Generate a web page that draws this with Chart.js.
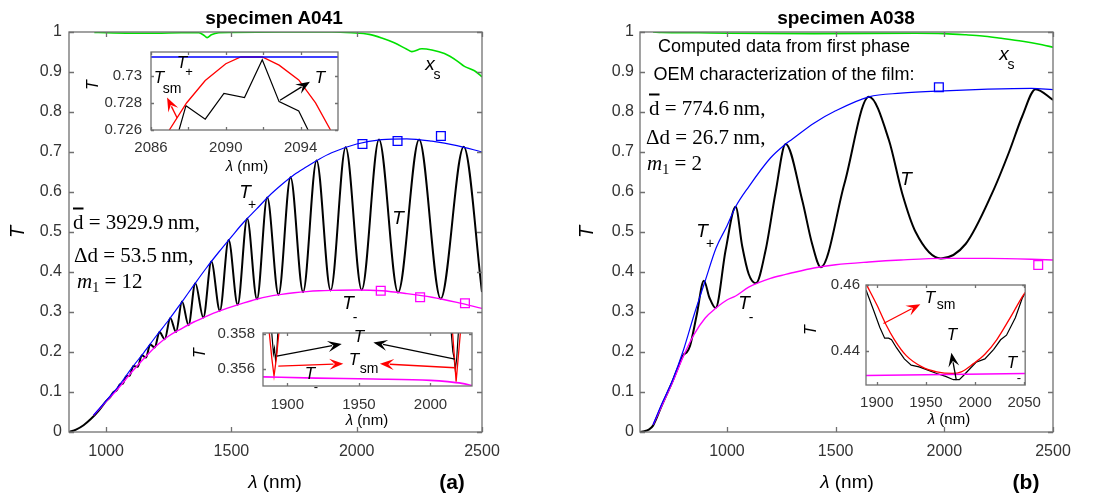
<!DOCTYPE html>
<html>
<head>
<meta charset="utf-8">
<script src="https://cdn.jsdelivr.net/npm/chart.js@4.4.0/dist/chart.umd.min.js"></script>
<style>
body { margin: 0; background: #fff; }
#wrap { position: relative; width: 1099px; height: 494px; overflow: hidden; font-family: 'Liberation Sans', Arial, sans-serif; color: #000; }
canvas { position: absolute; }
.t { position: absolute; transform: translate(-50%, -50%); white-space: nowrap; line-height: 1; }
.it { font-style: italic; }
.rot { transform: translate(-50%, -50%) rotate(-90deg); }
.b { font-weight: bold; }
.math { position: absolute; transform: translate(0, -50%); white-space: nowrap; line-height: 1; font-family: 'Liberation Serif', 'Times New Roman', serif; font-size: 21px; }
.math sub { font-size: 14px; vertical-align: -4px; }
.ov { text-decoration: overline; }
</style>
</head>
<body>
<div id="wrap">
  <canvas id="mainA" width="549" height="494" style="left:0;top:0"></canvas>
  <canvas id="mainB" width="550" height="494" style="left:549px;top:0"></canvas>
  <canvas id="insA1" width="255" height="134" style="left:95px;top:34px"></canvas>
  <canvas id="insA2" width="280" height="104" style="left:205px;top:316px"></canvas>
  <canvas id="insB" width="240" height="145" style="left:810px;top:270px"></canvas>

  <!-- panel (a) -->
  <div class="t b" style="left:274px;top:17px;font-size:19px">specimen A041</div>
  <div class="t it rot" style="left:17px;top:232px;font-size:20px">T</div>
  <div class="t" style="left:275px;top:481px;font-size:19px"><i>λ</i> (nm)</div>
  <div class="t b" style="left:452px;top:481px;font-size:21px">(a)</div>
  <div class="t it" style="left:245px;top:191px;font-size:19px">T</div>
  <div class="t" style="left:252px;top:204px;font-size:14px">+</div>
  <div class="t it" style="left:398px;top:217px;font-size:19px">T</div>
  <div class="t it" style="left:348px;top:302px;font-size:19px">T</div>
  <div class="t" style="left:355px;top:317px;font-size:14px">-</div>
  <div class="t it" style="left:430px;top:63px;font-size:19px">x</div>
  <div class="t" style="left:437px;top:74px;font-size:14px">s</div>
  <div class="math" style="left:73px;top:222px"><span class="ov">d</span> = 3929.9&thinsp;nm,</div>
  <div class="math" style="left:74px;top:255px">Δd = 53.5&thinsp;nm,</div>
  <div class="math" style="left:77px;top:283px"><i>m</i><sub>1</sub> = 12</div>

  <!-- inset (a) top -->
  <div class="t it rot" style="left:93px;top:85px;font-size:16px">T</div>
  <div class="t" style="left:247px;top:165px;font-size:15px"><i>λ</i> (nm)</div>
  <div class="t it" style="left:182px;top:62px;font-size:17px">T</div>
  <div class="t" style="left:189px;top:71px;font-size:13px">+</div>
  <div class="t it" style="left:159px;top:77px;font-size:17px">T</div>
  <div class="t" style="left:172px;top:88px;font-size:14px">sm</div>
  <div class="t it" style="left:320px;top:77px;font-size:17px">T</div>

  <!-- inset (a) bottom -->
  <div class="t it rot" style="left:200px;top:353px;font-size:16px">T</div>
  <div class="t" style="left:367px;top:419px;font-size:15px"><i>λ</i> (nm)</div>
  <div class="t it" style="left:359px;top:336px;font-size:17px">T</div>
  <div class="t it" style="left:354px;top:359px;font-size:17px">T</div>
  <div class="t" style="left:369px;top:368px;font-size:14px">sm</div>
  <div class="t it" style="left:310px;top:373px;font-size:17px">T</div>
  <div class="t" style="left:316px;top:386px;font-size:13px">-</div>

  <!-- panel (b) -->
  <div class="t b" style="left:846px;top:17px;font-size:19px">specimen A038</div>
  <div class="t it rot" style="left:586px;top:232px;font-size:20px">T</div>
  <div class="t" style="left:847px;top:481px;font-size:19px"><i>λ</i> (nm)</div>
  <div class="t b" style="left:1026px;top:481px;font-size:21px">(b)</div>
  <div class="t" style="left:784px;top:46px;font-size:18px">Computed data from first phase</div>
  <div class="t" style="left:784px;top:74px;font-size:18px">OEM characterization of the film:</div>
  <div class="math" style="left:649px;top:108px"><span class="ov">d</span> = 774.6&thinsp;nm,</div>
  <div class="math" style="left:646px;top:137px">Δd = 26.7&thinsp;nm,</div>
  <div class="math" style="left:647px;top:165px"><i>m</i><sub>1</sub> = 2</div>
  <div class="t it" style="left:1004px;top:53px;font-size:19px">x</div>
  <div class="t" style="left:1011px;top:64px;font-size:14px">s</div>
  <div class="t it" style="left:906px;top:178px;font-size:19px">T</div>
  <div class="t it" style="left:702px;top:230px;font-size:19px">T</div>
  <div class="t" style="left:710px;top:243px;font-size:14px">+</div>
  <div class="t it" style="left:744px;top:302px;font-size:19px">T</div>
  <div class="t" style="left:751px;top:317px;font-size:14px">-</div>

  <!-- inset (b) -->
  <div class="t it rot" style="left:811px;top:330px;font-size:16px">T</div>
  <div class="t" style="left:949px;top:418px;font-size:15px"><i>λ</i> (nm)</div>
  <div class="t it" style="left:930px;top:297px;font-size:17px">T</div>
  <div class="t" style="left:946px;top:304px;font-size:14px">sm</div>
  <div class="t it" style="left:952px;top:334px;font-size:17px">T</div>
  <div class="t it" style="left:1012px;top:362px;font-size:17px">T</div>
  <div class="t" style="left:1019px;top:377px;font-size:13px">-</div>
</div>

<script>
// ---------- panel (a): specimen A041 ----------
var aEnvLam = [950, 1000, 1050, 1100, 1150, 1200, 1250, 1300, 1350, 1400, 1450, 1500, 1550, 1600, 1650, 1700, 1750, 1800, 1850, 1900, 2000, 2100, 2200, 2300, 2400, 2500];
var aTplus = [0.042, 0.078, 0.115, 0.158, 0.198, 0.24, 0.28, 0.323, 0.367, 0.41, 0.45, 0.488, 0.525, 0.557, 0.59, 0.618, 0.643, 0.663, 0.682, 0.698, 0.72, 0.731, 0.733, 0.727, 0.716, 0.70];
var aTminus = [0.042, 0.076, 0.11, 0.148, 0.183, 0.215, 0.24, 0.258, 0.275, 0.289, 0.302, 0.313, 0.323, 0.332, 0.339, 0.344, 0.348, 0.351, 0.353, 0.354, 0.355, 0.353, 0.346, 0.337, 0.324, 0.309];
var aTLam = [852, 880, 910, 940, 970, 1000, 1017, 1030, 1042, 1055, 1067, 1080, 1094, 1109, 1126, 1143, 1159, 1176, 1194, 1213, 1234, 1256, 1279, 1303, 1329, 1356, 1388, 1420, 1454, 1489, 1525, 1563, 1602, 1643, 1688, 1736, 1786, 1840, 1896, 1956, 2020, 2089, 2165, 2249, 2335, 2427, 2500];
var aT = [0, 0.006, 0.017, 0.033, 0.053, 0.077, 0.088, 0.1, 0.104, 0.119, 0.121, 0.139, 0.141, 0.165, 0.163, 0.192, 0.186, 0.219, 0.211, 0.25, 0.232, 0.285, 0.25, 0.326, 0.267, 0.372, 0.286, 0.426, 0.303, 0.48, 0.318, 0.534, 0.332, 0.586, 0.343, 0.637, 0.35, 0.679, 0.354, 0.712, 0.355, 0.731, 0.349, 0.731, 0.333, 0.713, 0.35];
var aXsLam = [953, 1000, 1100, 1200, 1300, 1370, 1390, 1403, 1420, 1450, 1500, 1700, 1900, 1980, 2050, 2100, 2150, 2200, 2220, 2260, 2300, 2350, 2400, 2430, 2470, 2500];
var aXs = [0.999, 0.998, 0.997, 0.997, 0.998, 0.998, 0.992, 0.986, 0.993, 0.998, 0.999, 1.0, 1.0, 0.998, 0.994, 0.985, 0.973, 0.957, 0.951, 0.958, 0.955, 0.946, 0.928, 0.914, 0.903, 0.888];
var aSqPlusLam = [2023, 2163, 2336];
var aSqPlus = [0.72, 0.7275, 0.74];
var aSqMinusLam = [2096, 2253, 2432];
var aSqMinus = [0.353, 0.337, 0.322];

// inset (a) top
var a1BlueLam = [2086, 2096];
var a1Blue = [0.7314, 0.7314];
var a1RedLam = [2086.98, 2087.9, 2088.9, 2090.0, 2090.8, 2091.95, 2092.85, 2093.9, 2094.8, 2095.6];
var a1Red = [0.726, 0.728, 0.72966, 0.7309, 0.7314, 0.7314, 0.7308, 0.7297, 0.728, 0.726];
var a1TLam = [2087.5, 2087.87, 2088.9, 2089.9, 2091.0, 2091.95, 2092.85, 2093.9, 2094.4];
var a1T = [0.726, 0.7278, 0.7268, 0.7287, 0.7284, 0.7312, 0.7281, 0.7274, 0.726];

// inset (a) bottom
var a2MagLam = [1883, 1920, 1960, 2000, 2012, 2022, 2029];
var a2Mag = [0.35557, 0.3555, 0.35545, 0.35537, 0.3553, 0.3552, 0.35508];
var a2RedLam = [1885.8, 1887.5, 1889.2, 1890.7, 1892.3, 1894.0, 1895.8, 1900, 2010, 2013.5, 2015.5, 2016.8, 2017.9, 2019.3, 2020.8, 2022.5];
var a2Red = [0.36, 0.358, 0.3566, 0.35562, 0.3566, 0.358, 0.36, 0.365, 0.365, 0.36, 0.358, 0.3566, 0.3553, 0.3566, 0.358, 0.36];
var a2TLam = [1888.0, 1889.2, 1890.3, 1891.0, 1891.8, 1892.6, 1893.3, 1894.2, 1900, 2010, 2013.2, 2014.6, 2015.6, 2016.4, 2017.3, 2018.3, 2019.4, 2020.6];
var a2T = [0.3595, 0.358, 0.3569, 0.3572, 0.3565, 0.357, 0.358, 0.3595, 0.366, 0.366, 0.3595, 0.358, 0.357, 0.3567, 0.356, 0.3566, 0.358, 0.3595];

// ---------- panel (b): specimen A038 ----------
var bEnvLam = [660, 700, 750, 800, 850, 900, 950, 1000, 1040, 1100, 1200, 1270, 1300, 1400, 1500, 1653, 1800, 2000, 2200, 2400, 2500];
var bTplus = [0.018, 0.07, 0.13, 0.205, 0.295, 0.378, 0.46, 0.515, 0.563, 0.613, 0.685, 0.72, 0.732, 0.772, 0.803, 0.838, 0.847, 0.853, 0.857, 0.859, 0.856];
var bTminus = [0.018, 0.065, 0.125, 0.19, 0.245, 0.285, 0.31, 0.33, 0.34, 0.362, 0.384, 0.394, 0.398, 0.41, 0.418, 0.425, 0.43, 0.434, 0.434, 0.432, 0.43];
var bTLam = [600, 620, 640, 660, 700, 750, 780, 800, 815, 830, 860, 894, 920, 948, 994, 1040, 1070, 1100, 1133, 1178, 1224, 1270, 1346, 1392, 1432, 1540, 1653, 1745, 1806, 1868, 1984, 2098, 2220, 2298, 2359, 2420, 2500];
var bT = [0, 0.002, 0.006, 0.016, 0.066, 0.127, 0.168, 0.193, 0.199, 0.215, 0.29, 0.378, 0.335, 0.31, 0.455, 0.563, 0.465, 0.395, 0.372, 0.455, 0.6, 0.72, 0.58, 0.47, 0.412, 0.62, 0.838, 0.73, 0.597, 0.5, 0.434, 0.47, 0.597, 0.7, 0.79, 0.857, 0.83];
var bXsLam = [660, 700, 870, 1000, 1400, 1870, 2000, 2100, 2175, 2250, 2360, 2450, 2500];
var bXs = [1.0, 0.999, 0.998, 0.997, 0.996, 0.997, 0.996, 0.993, 0.99, 0.985, 0.977, 0.968, 0.962];
var bSqPlusLam = [1975];
var bSqPlus = [0.862];
var bSqMinusLam = [2432];
var bSqMinus = [0.4175];

// inset (b)
var b1MagLam = [1889, 2051];
var b1Mag = [0.4326, 0.4332];
var b1RedLam = [1890, 1900, 1909, 1918, 1930, 1946, 1961, 1977, 1986, 1998, 2010, 2022, 2034, 2048, 2051];
var b1Red = [0.4598, 0.454, 0.4482, 0.4434, 0.4386, 0.4352, 0.4337, 0.4332, 0.4337, 0.4361, 0.439, 0.4434, 0.4492, 0.4564, 0.4578];
var b1TLam = [1889, 1897, 1903, 1908, 1912, 1915, 1920, 1928, 1935, 1943, 1952, 1961, 1970, 1978, 1984, 1989, 1995, 2001, 2010, 2019, 2026, 2032, 2041, 2048, 2051];
var b1T = [0.4585, 0.4521, 0.4472, 0.4439, 0.4439, 0.4434, 0.441, 0.4376, 0.4357, 0.4352, 0.4342, 0.4332, 0.4323, 0.4313, 0.4313, 0.4328, 0.4347, 0.4366, 0.4376, 0.4405, 0.4434, 0.4448, 0.4501, 0.456, 0.4575];

// ticks
var mainYTicks = [0, 0.1, 0.2, 0.3, 0.4, 0.5, 0.6, 0.7, 0.8, 0.9, 1];
var mainYLabels = ['0', '0.1', '0.2', '0.3', '0.4', '0.5', '0.6', '0.7', '0.8', '0.9', '1'];
var mainXTicks = [1000, 1500, 2000, 2500];
var mainXLabels = ['1000', '1500', '2000', '2500'];
var a1XTicks = [2086, 2088, 2090, 2092, 2094];
var a1XLabels = ['2086', '', '2090', '', '2094'];
var a1YTicks = [0.726, 0.728, 0.73];
var a1YLabels = ['0.726', '0.728', '0.73'];
var a2XTicks = [1900, 1950, 2000];
var a2XLabels = ['1900', '1950', '2000'];
var a2YTicks = [0.356, 0.358];
var a2YLabels = ['0.356', '0.358'];
var b1XTicks = [1900, 1950, 2000, 2050];
var b1XLabels = ['1900', '1950', '2000', '2050'];
var b1YTicks = [0.44, 0.46];
var b1YLabels = ['0.44', '0.46'];

// annotation arrows, in data coordinates
var a1Arrows = [
  { from: [2092.9, 0.7282], to: [2094.5, 0.72957], color: '#000' },
  { from: [2087.4, 0.72689], to: [2086.86, 0.7284], color: '#f00' }
];
var a2Arrows = [
  { from: [1892.6, 0.35675], to: [1938.0, 0.35745], color: '#000' },
  { from: [2017.1, 0.35658], to: [1960.1, 0.35753], color: '#000' },
  { from: [1893.7, 0.35618], to: [1939.1, 0.35632], color: '#f00' },
  { from: [2017.1, 0.35609], to: [1964.7, 0.35632], color: '#f00' }
];
var b1Arrows = [
  { from: [1906.8, 0.44832], to: [1944.3, 0.4542], color: '#f00' },
  { from: [1980.9, 0.43117], to: [1975.9, 0.4395], color: '#000' }
];

var BLUE = '#0000ff', MAG = '#ff00ff', GREEN = '#00e000', RED = '#ff0000', BLACK = '#000000';
var SANS = "'Liberation Sans', Arial, sans-serif";

function pts(xs, ys) {
  return xs.map(function (x, i) { return { x: x, y: ys[i] }; });
}

function line(xs, ys, color, width, smooth) {
  return {
    data: pts(xs, ys),
    borderColor: color,
    borderWidth: width,
    pointRadius: 0,
    fill: false,
    cubicInterpolationMode: smooth ? 'monotone' : 'default',
    tension: 0
  };
}

function squares(xs, ys, color) {
  return {
    data: pts(xs, ys),
    showLine: false,
    pointStyle: 'rect',
    pointRadius: 6.2,
    pointBorderColor: color,
    pointBackgroundColor: 'rgba(0,0,0,0)',
    pointBorderWidth: 1.3
  };
}

function drawArrow(c, x0, y0, x1, y1, col) {
  var ang = Math.atan2(y1 - y0, x1 - x0);
  var L = 14, W = 5.5;
  var cs = Math.cos(ang), sn = Math.sin(ang);
  c.strokeStyle = col;
  c.fillStyle = col;
  c.lineWidth = 1.3;
  c.beginPath();
  c.moveTo(x0, y0);
  c.lineTo(x1 - cs * L * 0.7, y1 - sn * L * 0.7);
  c.stroke();
  c.beginPath();
  c.moveTo(x1, y1);
  c.lineTo(x1 - cs * L - sn * W, y1 - sn * L + cs * W);
  c.lineTo(x1 - cs * L * 0.6, y1 - sn * L * 0.6);
  c.lineTo(x1 - cs * L + sn * W, y1 - sn * L - cs * W);
  c.closePath();
  c.fill();
}

// box, inward tick marks and arrows, like a matlab axes
var frame = {
  id: 'frame',
  beforeDatasetsDraw: function (chart, args, o) {
    var a = chart.chartArea, c = chart.ctx;
    if (o.fill) {
      c.save();
      c.fillStyle = '#fff';
      c.fillRect(a.left, a.top, a.right - a.left, a.bottom - a.top);
      c.restore();
    }
  },
  afterDatasetsDraw: function (chart, args, o) {
    var a = chart.chartArea, c = chart.ctx, sx = chart.scales.x, sy = chart.scales.y;
    var tl = o.tick || 5;
    c.save();
    c.strokeStyle = '#707070';
    c.lineWidth = 1.3;
    c.beginPath();
    sx.ticks.forEach(function (t) {
      var p = Math.round(sx.getPixelForValue(t.value)) + 0.5;
      c.moveTo(p, a.bottom); c.lineTo(p, a.bottom - tl);
      c.moveTo(p, a.top); c.lineTo(p, a.top + tl);
    });
    sy.ticks.forEach(function (t) {
      var p = Math.round(sy.getPixelForValue(t.value)) + 0.5;
      c.moveTo(a.left, p); c.lineTo(a.left + tl, p);
      c.moveTo(a.right, p); c.lineTo(a.right - tl, p);
    });
    c.stroke();
    c.strokeRect(a.left, a.top, a.right - a.left, a.bottom - a.top);
    (o.arrows || []).forEach(function (ar) {
      drawArrow(c, sx.getPixelForValue(ar.from[0]), sy.getPixelForValue(ar.from[1]),
        sx.getPixelForValue(ar.to[0]), sy.getPixelForValue(ar.to[1]), ar.color);
    });
    c.restore();
  }
};
Chart.register(frame);

function options(o) {
  var font = { family: SANS, size: o.fontSize };
  return {
    responsive: false,
    animation: false,
    events: [],
    layout: { padding: o.pad },
    plugins: {
      legend: { display: false },
      tooltip: { enabled: false },
      frame: { fill: o.fill, tick: o.tick, arrows: o.arrows }
    },
    scales: {
      x: {
        type: 'linear', min: o.xmin, max: o.xmax,
        grid: { display: false, drawTicks: false },
        border: { display: false },
        afterBuildTicks: function (s) { s.ticks = o.xt.map(function (v) { return { value: v }; }); },
        afterFit: function (s) { s.height = o.xh; },
        ticks: { autoSkip: false, maxRotation: 0, padding: o.xp, color: '#333', font: font,
          callback: function (v, i) { return o.xl[i]; } }
      },
      y: {
        type: 'linear', min: o.ymin, max: o.ymax,
        grid: { display: false, drawTicks: false },
        border: { display: false },
        afterBuildTicks: function (s) { s.ticks = o.yt.map(function (v) { return { value: v }; }); },
        afterFit: function (s) { s.width = o.yw; },
        ticks: { autoSkip: false, padding: o.yp, color: '#333', font: font,
          callback: function (v, i) { return o.yl[i]; } }
      }
    }
  };
}

// main (a)
new Chart(document.getElementById('mainA'), {
  type: 'line',
  data: { datasets: [
    squares(aSqPlusLam, aSqPlus, BLUE),
    squares(aSqMinusLam, aSqMinus, MAG),
    line(aEnvLam, aTplus, BLUE, 1.2, true),
    line(aEnvLam, aTminus, MAG, 1.4, true),
    line(aTLam, aT, BLACK, 2, true),
    line(aXsLam, aXs, GREEN, 1.6, true)
  ] },
  options: options({ pad: { left: 0, right: 67, top: 32, bottom: 0 }, xmin: 852, xmax: 2500, ymin: 0, ymax: 1,
    xt: mainXTicks, xl: mainXLabels, yt: mainYTicks, yl: mainYLabels, xh: 62, yw: 69, xp: 10, yp: 7,
    fontSize: 16, tick: 5, fill: false })
});

// main (b)
new Chart(document.getElementById('mainB'), {
  type: 'line',
  data: { datasets: [
    squares(bSqPlusLam, bSqPlus, BLUE),
    squares(bSqMinusLam, bSqMinus, MAG),
    line(bEnvLam, bTplus, BLUE, 1.2, true),
    line(bEnvLam, bTminus, MAG, 1.4, true),
    line(bTLam, bT, BLACK, 2, true),
    line(bXsLam, bXs, GREEN, 1.6, true)
  ] },
  options: options({ pad: { left: 0, right: 46, top: 32, bottom: 0 }, xmin: 600, xmax: 2500, ymin: 0, ymax: 1,
    xt: mainXTicks, xl: mainXLabels, yt: mainYTicks, yl: mainYLabels, xh: 62, yw: 91, xp: 10, yp: 6,
    fontSize: 16, tick: 5, fill: false })
});

// inset (a) top
new Chart(document.getElementById('insA1'), {
  type: 'line',
  data: { datasets: [
    line(a1BlueLam, a1Blue, BLUE, 1.6, false),
    line(a1RedLam, a1Red, RED, 1.3, false),
    line(a1TLam, a1T, BLACK, 1.2, false)
  ] },
  options: options({ pad: { left: 0, right: 12, top: 12, bottom: 0 }, xmin: 2086, xmax: 2096, ymin: 0.726, ymax: 0.73177,
    xt: a1XTicks, xl: a1XLabels, yt: a1YTicks, yl: a1YLabels, xh: 38, yw: 56, xp: 9, yp: 9,
    fontSize: 15, tick: 3, fill: true, arrows: a1Arrows })
});

// inset (a) bottom
new Chart(document.getElementById('insA2'), {
  type: 'line',
  data: { datasets: [
    line(a2MagLam, a2Mag, MAG, 1.6, true),
    line(a2RedLam, a2Red, RED, 1.3, false),
    line(a2TLam, a2T, BLACK, 1.2, false)
  ] },
  options: options({ pad: { left: 0, right: 13, top: 12, bottom: 0 }, xmin: 1883, xmax: 2029, ymin: 0.35505, ymax: 0.35807,
    xt: a2XTicks, xl: a2XLabels, yt: a2YTicks, yl: a2YLabels, xh: 34, yw: 58, xp: 10, yp: 8,
    fontSize: 15, tick: 3, fill: true, arrows: a2Arrows })
});

// inset (b)
new Chart(document.getElementById('insB'), {
  type: 'line',
  data: { datasets: [
    line(b1MagLam, b1Mag, MAG, 1.6, false),
    line(b1RedLam, b1Red, RED, 1.3, true),
    line(b1TLam, b1T, BLACK, 1.2, false)
  ] },
  options: options({ pad: { left: 0, right: 20, top: 12, bottom: 0 }, xmin: 1889, xmax: 2051, ymin: 0.4297, ymax: 0.46,
    xt: b1XTicks, xl: b1XLabels, yt: b1YTicks, yl: b1YLabels, xh: 30, yw: 56, xp: 9, yp: 6,
    fontSize: 15, tick: 3, fill: true, arrows: b1Arrows })
});
</script>
</body>
</html>
